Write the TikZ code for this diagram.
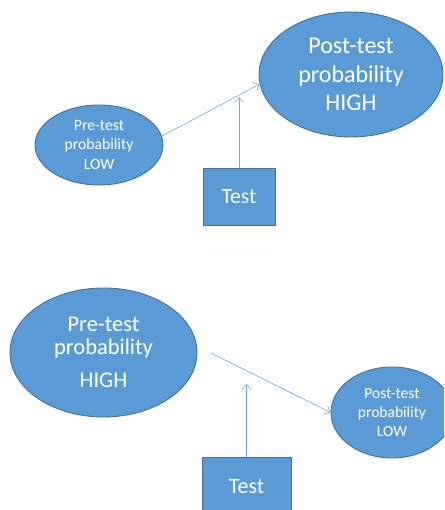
\documentclass[tikz,border=0pt]{standalone}
\usepackage{fontspec}
\setmainfont{Carlito}
\usetikzlibrary{shapes.geometric,arrows.meta}
\definecolor{boxfill}{HTML}{5B9BD5}
\definecolor{boxedge}{HTML}{41719C}
\definecolor{linkcol}{HTML}{6FA6DB}
\tikzset{
  blob/.style={ellipse, draw=boxedge, fill=boxfill, line width=0.9pt,
    text=white, align=center, inner sep=0pt},
  testbox/.style={rectangle, draw=boxedge, fill=boxfill, line width=0.9pt,
    text=white, inner sep=0pt},
  link/.style={draw=linkcol, line width=0.6pt,
    -{Straight Barb[length=5pt,width=9pt,line width=0.6pt]}},
}
\begin{document}
\begin{tikzpicture}[x=1pt,y=1pt]
\clip (0,0) rectangle (444,510);
\fill[white] (0,0) rectangle (444,510);

% upper scheme: low pre-test probability raised by the test
\node[blob, minimum width=184, minimum height=125,
  font=\fontsize{24}{28.7}\selectfont] (post1) at (351,435.5)
  {Post-test\\probability\\HIGH};
\node[blob, minimum width=128, minimum height=80,
  font=\fontsize{15.7}{19.3}\selectfont] (pre1) at (99,365)
  {Pre-test\\probability\\LOW};
\node[testbox, minimum width=72, minimum height=57,
  font=\fontsize{21.6}{26}\selectfont] (test1) at (239,313.5) {Test};
\coordinate (tip1) at (239,413);
\draw[link] (pre1.8) -- (post1.186);
\draw[link] (test1.north) -- (tip1);

% lower scheme: high pre-test probability lowered by the test
\node[blob, minimum width=187, minimum height=129,
  font=\fontsize{22.5}{22.7}\selectfont] (pre2) at (103.5,157.5)
  {Pre-test\\probability\\[10pt]HIGH};
\node[blob, minimum width=122, minimum height=91,
  font=\fontsize{15.5}{19.3}\selectfont] (post2) at (392,97.5)
  {Post-test\\probability\\LOW};
\node[testbox, minimum width=89, minimum height=60,
  font=\fontsize{22}{26}\selectfont] (test2) at (246.5,23) {Test};
\coordinate (start2) at (211,157);
\coordinate (tip2) at (246.5,126);
\draw[link] (start2) -- (post2.west);
\draw[link] (test2.north) -- (tip2);
\end{tikzpicture}
\end{document}
